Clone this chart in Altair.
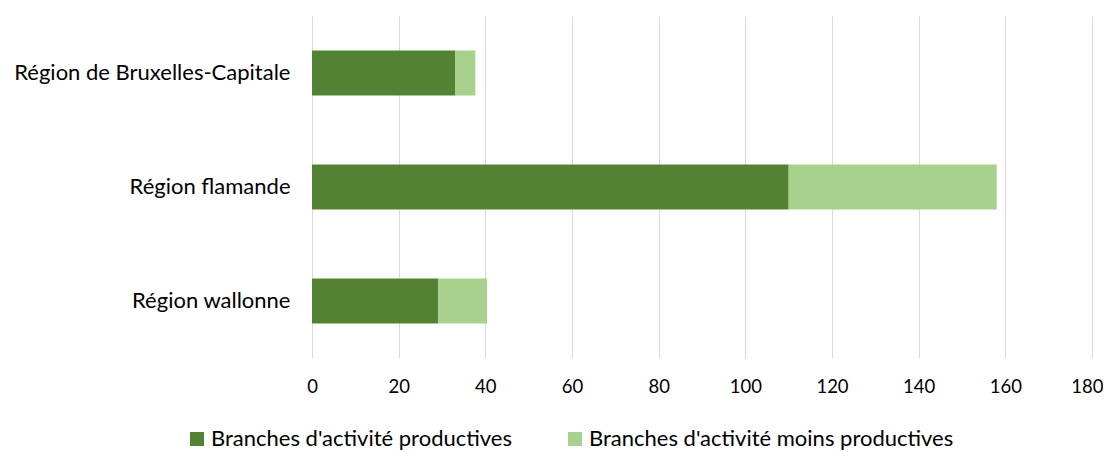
import altair as alt
import pandas as pd

regions = ["Région de Bruxelles-Capitale", "Région flamande", "Région wallonne"]
series = ["Branches d'activité productives", "Branches d'activité moins productives"]
productive = [33.1, 110.0, 29.1]
less_productive = [4.6, 48.0, 11.3]
colors = ["#548235", "#A9D18E"]
x_ticks = [0, 20, 40, 60, 80, 100, 120, 140, 160, 180]

rows = []
for i, r in enumerate(regions):
    rows.append({"region": r, "series": series[0], "value": productive[i], "ord": 0})
    rows.append({"region": r, "series": series[1], "value": less_productive[i], "ord": 1})
df = pd.DataFrame(rows)

FONT = "Lato"

chart = alt.Chart(df).mark_bar(size=45).encode(
    x=alt.X("value:Q", stack="zero",
            scale=alt.Scale(domain=[0, 180], nice=False),
            axis=alt.Axis(values=x_ticks, title=None, grid=True, gridColor="#D9D9D9",
                          gridWidth=1, domain=False, ticks=False, labelPadding=19,
                          labelFlush=False,
                          labelAlign={"condition": {"test": "datum.value == 180", "value": "right"},
                                      "value": "center"},
                          labelOffset={"condition": {"test": "datum.value == 180", "value": 11},
                                       "value": 0},
                          labelFontSize=18.5, labelFont=FONT, labelColor="#000000")),
    y=alt.Y("region:N", sort=regions,
            scale=alt.Scale(paddingInner=0, paddingOuter=0),
            axis=alt.Axis(title=None, domain=False, ticks=False, labelPadding=22,
                          labelFontSize=22, labelFont=FONT, labelColor="#000000",
                          labelLimit=400)),
    color=alt.Color("series:N", scale=alt.Scale(domain=series, range=colors),
                    legend=alt.Legend(title=None, orient="none", direction="horizontal",
                                      legendX=-126, legendY=412, symbolType="square",
                                      symbolSize=196, symbolStrokeWidth=0,
                                      labelFontSize=22, labelFont=FONT,
                                      labelColor="#000000", labelOffset=3,
                                      columnPadding=52, labelLimit=500)),
    order=alt.Order("ord:Q"),
).properties(
    width=780, height=342,
    autosize=alt.AutoSizeParams(type="none"),
    padding={"left": 304, "top": 8, "right": 11, "bottom": 94},
).configure_view(stroke=None)

chart.save("out.html", embed_options={"renderer": "svg", "actions": False})
